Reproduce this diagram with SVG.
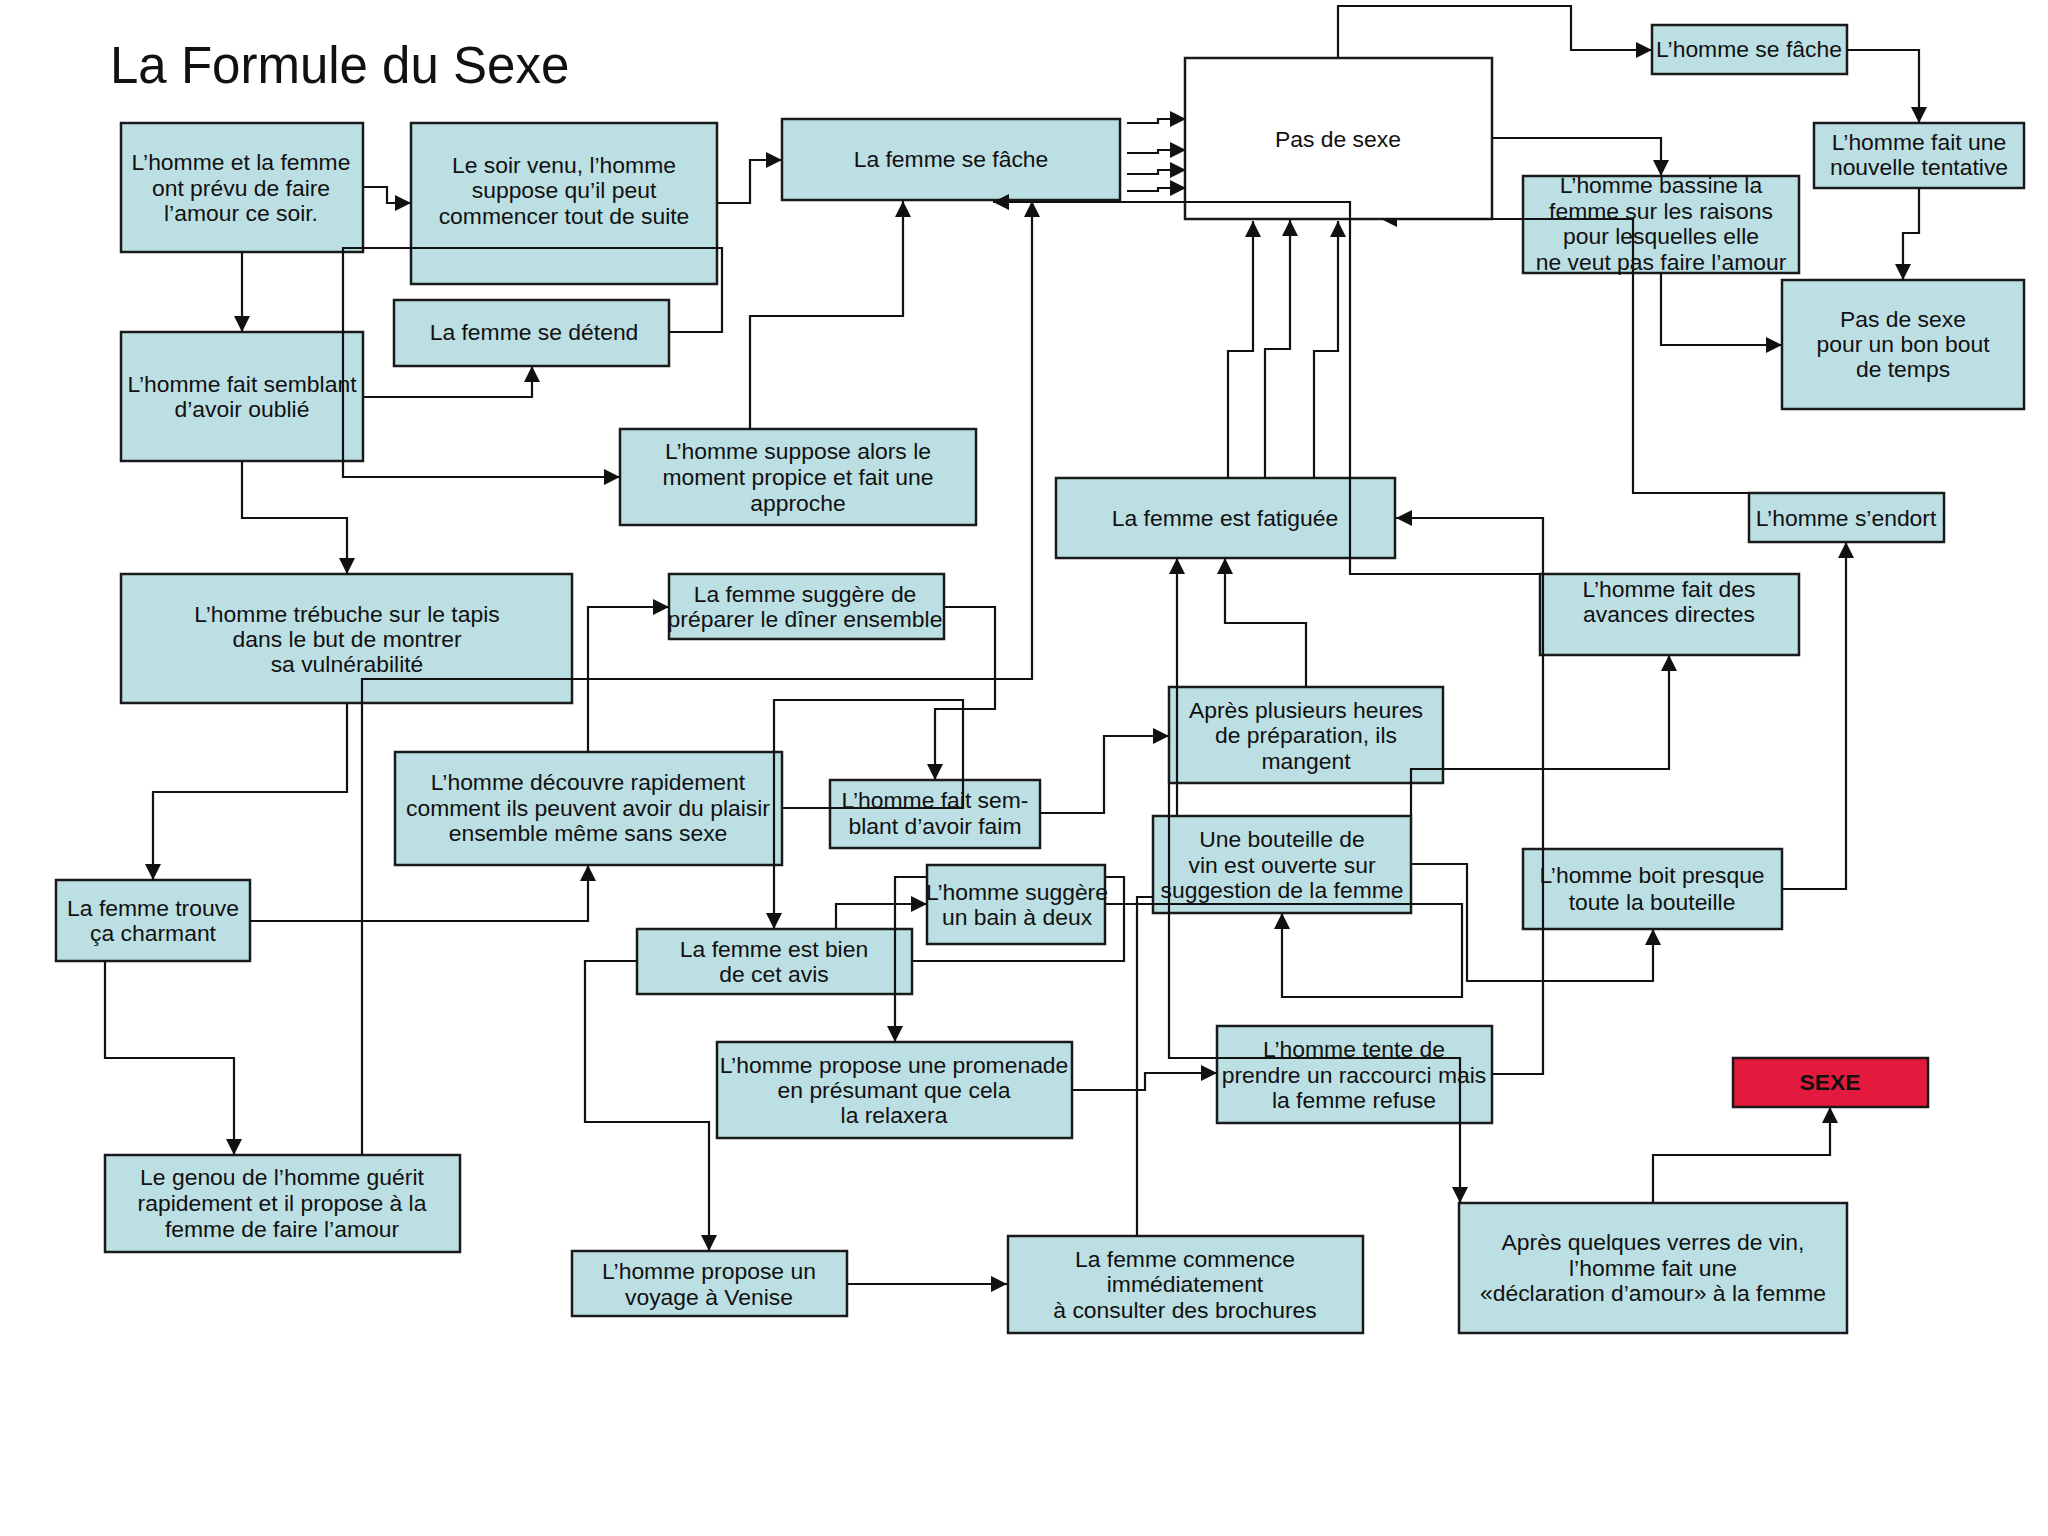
<svg xmlns="http://www.w3.org/2000/svg" width="2048" height="1536" viewBox="0 0 2048 1536">
<defs>
<style>
.b{fill:#bcdfe3;stroke:#1a1a1a;stroke-width:2.5}
.w{fill:#ffffff;stroke:#1a1a1a;stroke-width:2.5}
.r{fill:#e31a3d;stroke:#1a1a1a;stroke-width:2.5}
text{font-family:"Liberation Sans",Arial,sans-serif;font-size:22.9px;fill:#111;text-anchor:middle}
.t{font-size:51px;text-anchor:start}
.bold{font-weight:bold}
.c path{fill:none;stroke:#111;stroke-width:2.2}
.c path.a{marker-end:url(#ah)}
</style>
<marker id="ah" markerUnits="userSpaceOnUse" markerWidth="16" markerHeight="16" refX="16" refY="8" orient="auto" viewBox="0 0 16 16"><path d="M0,0 L16,8 L0,16 z" fill="#111"/></marker>
</defs>
<rect width="2048" height="1536" fill="#ffffff"/>
<text class="t" x="110" y="83">La Formule du Sexe</text>

<g id="n1"><rect class="b" x="121" y="123" width="242" height="129"/><text x="241" y="170">L’homme et la femme</text><text x="241" y="196">ont prévu de faire</text><text x="241" y="221">l’amour ce soir.</text></g>
<g id="n2"><rect class="b" x="411" y="123" width="306" height="161"/><text x="564" y="173">Le soir venu, l’homme</text><text x="564" y="198">suppose qu’il peut</text><text x="564" y="224">commencer tout de suite</text></g>
<g id="n3"><rect class="b" x="782" y="119" width="338" height="81"/><text x="951" y="167">La femme se fâche</text></g>
<g id="n4"><rect class="b" x="394" y="300" width="275" height="66"/><text x="534" y="340">La femme se détend</text></g>
<g id="n5"><rect class="b" x="121" y="332" width="242" height="129"/><text x="242" y="392">L’homme fait semblant</text><text x="242" y="417">d’avoir oublié</text></g>
<g id="n6"><rect class="b" x="620" y="429" width="356" height="96"/><text x="798" y="459">L’homme suppose alors le</text><text x="798" y="485">moment propice et fait une</text><text x="798" y="511">approche</text></g>
<g id="n7"><rect class="b" x="121" y="574" width="451" height="129"/><text x="347" y="622">L’homme trébuche sur le tapis</text><text x="347" y="647">dans le but de montrer</text><text x="347" y="672">sa vulnérabilité</text></g>
<g id="n8"><rect class="b" x="669" y="574" width="275" height="65"/><text x="805" y="602">La femme suggère de</text><text x="805" y="627">préparer le dîner ensemble</text></g>
<g id="n9"><rect class="b" x="395" y="752" width="387" height="113"/><text x="588" y="790">L’homme découvre rapidement</text><text x="588" y="816">comment ils peuvent avoir du plaisir</text><text x="588" y="841">ensemble même sans sexe</text></g>
<g id="n10"><rect class="b" x="830" y="780" width="210" height="68"/><text x="935" y="808">L’homme fait sem-</text><text x="935" y="834">blant d’avoir faim</text></g>
<g id="n11"><rect class="b" x="1056" y="478" width="339" height="80"/><text x="1225" y="526">La femme est fatiguée</text></g>
<g id="n12"><rect class="b" x="1169" y="687" width="274" height="96"/><text x="1306" y="718">Après plusieurs heures</text><text x="1306" y="743">de préparation, ils</text><text x="1306" y="769">mangent</text></g>
<g id="n13"><rect class="b" x="1153" y="816" width="258" height="97"/><text x="1282" y="847">Une bouteille de</text><text x="1282" y="873">vin est ouverte sur</text><text x="1282" y="898">suggestion de la femme</text></g>
<g id="n14"><rect class="b" x="927" y="865" width="178" height="79"/><text x="1017" y="900">L’homme suggère</text><text x="1017" y="925">un bain à deux</text></g>
<g id="n15"><rect class="b" x="637" y="929" width="275" height="65"/><text x="774" y="957">La femme est bien</text><text x="774" y="982">de cet avis</text></g>
<g id="n16"><rect class="b" x="717" y="1042" width="355" height="96"/><text x="894" y="1073">L’homme propose une promenade</text><text x="894" y="1098">en présumant que cela</text><text x="894" y="1123">la relaxera</text></g>
<g id="n17"><rect class="b" x="572" y="1251" width="275" height="65"/><text x="709" y="1279">L’homme propose un</text><text x="709" y="1305">voyage à Venise</text></g>
<g id="n18"><rect class="b" x="1008" y="1236" width="355" height="97"/><text x="1185" y="1267">La femme commence</text><text x="1185" y="1292">immédiatement</text><text x="1185" y="1318">à consulter des brochures</text></g>
<g id="n19"><rect class="b" x="1217" y="1026" width="275" height="97"/><text x="1354" y="1057">L’homme tente de</text><text x="1354" y="1083">prendre un raccourci mais</text><text x="1354" y="1108">la femme refuse</text></g>
<g id="n20"><rect class="b" x="1459" y="1203" width="388" height="130"/><text x="1653" y="1250">Après quelques verres de vin,</text><text x="1653" y="1276">l’homme fait une</text><text x="1653" y="1301">«déclaration d’amour» à la femme</text></g>
<g id="n21"><rect class="r" x="1733" y="1058" width="195" height="49"/><text class="bold" x="1830" y="1090">SEXE</text></g>
<g id="n22"><rect class="b" x="1523" y="849" width="259" height="80"/><text x="1652" y="883">L’homme boit presque</text><text x="1652" y="910">toute la bouteille</text></g>
<g id="n23"><rect class="b" x="1540" y="574" width="259" height="81"/><text x="1669" y="597">L’homme fait des</text><text x="1669" y="622">avances directes</text></g>
<g id="n24"><rect class="b" x="1749" y="493" width="195" height="49"/><text x="1846" y="526">L’homme s’endort</text></g>
<g id="n25"><rect class="b" x="1652" y="25" width="195" height="49"/><text x="1749" y="57">L’homme se fâche</text></g>
<g id="n26"><rect class="b" x="1814" y="123" width="210" height="65"/><text x="1919" y="150">L’homme fait une</text><text x="1919" y="175">nouvelle tentative</text></g>
<g id="n27"><rect class="b" x="1782" y="280" width="242" height="129"/><text x="1903" y="327">Pas de sexe</text><text x="1903" y="352">pour un bon bout</text><text x="1903" y="377">de temps</text></g>
<g id="n28"><rect class="b" x="1523" y="176" width="276" height="97"/><text x="1661" y="193">L’homme bassine la</text><text x="1661" y="219">femme sur les raisons</text><text x="1661" y="244">pour lesquelles elle</text><text x="1661" y="270">ne veut pas faire l’amour</text></g>
<g id="n29"><rect class="w" x="1185" y="58" width="307" height="161"/><text x="1338" y="147">Pas de sexe</text></g>
<g id="n30"><rect class="b" x="56" y="880" width="194" height="81"/><text x="153" y="916">La femme trouve</text><text x="153" y="941">ça charmant</text></g>
<g id="n31"><rect class="b" x="105" y="1155" width="355" height="97"/><text x="282" y="1185">Le genou de l’homme guérit</text><text x="282" y="1211">rapidement et il propose à la</text><text x="282" y="1237">femme de faire l’amour</text></g>

<g id="connectors" class="c">
<path class="a" d="M363,187 H387 V203 H411"/>
<path class="a" d="M242,252 V332"/>
<path class="a" d="M717,203 H750 V160 H782"/>
<path class="a" d="M669,332 H722 V248 H343 V477 H620"/>
<path class="a" d="M363,397 H532 V366"/>
<path class="a" d="M750,429 V316 H903 V201"/>
<path class="a" d="M242,461 V518 H347 V574"/>
<path class="a" d="M347,703 V792 H153 V880"/>
<path class="a" d="M105,961 V1058 H234 V1155"/>
<path class="a" d="M250,921 H588 V865"/>
<path class="a" d="M362,1155 V679 H1032 V201"/>
<path class="a" d="M588,752 V607 H669"/>
<path class="a" d="M944,607 H995 V709 H935 V780"/>
<path class="a" d="M782,808 H963 V700 H774 V929"/>
<path class="a" d="M1040,813 H1104 V736 H1169"/>
<path class="a" d="M1306,687 V623 H1225 V558"/>
<path class="a" d="M1177,816 V558"/>
<path class="a" d="M1228,478 V351 H1253 V221"/>
<path class="a" d="M1265,478 V349 H1290 V220"/>
<path class="a" d="M1314,478 V351 H1338 V221"/>
<path class="a" d="M1540,574 H1350 V202 H993"/>
<path class="a" d="M1411,816 V769 H1669 V655"/>
<path class="a" d="M1411,864 H1467 V981 H1653 V929"/>
<path class="a" d="M1782,889 H1846 V542"/>
<path d="M1749,493 H1633 V219 H1381"/>
<polygon points="1381,219 1397,219 1397,227" fill="#111"/>
<path class="a" d="M1338,58 V6 H1571 V50 H1652"/>
<path class="a" d="M1847,50 H1919 V123"/>
<path class="a" d="M1919,188 V233 H1903 V280"/>
<path class="a" d="M1492,138 H1661 V176"/>
<path class="a" d="M1661,273 V345 H1782"/>
<path class="a" d="M1127,123 H1158 V119 H1186"/>
<path class="a" d="M1127,153 H1158 V150 H1186"/>
<path class="a" d="M1127,174 H1158 V170 H1186"/>
<path class="a" d="M1127,191 H1158 V188 H1186"/>
<path class="a" d="M836,929 V904 H927"/>
<path class="a" d="M927,877 H895 V1042"/>
<path d="M1105,877 H1124 V961 H912"/>
<path class="a" d="M1105,904 H1462 V997 H1282 V913"/>
<path d="M1137,1236 V897 H1153"/>
<path class="a" d="M1169,783 V1058 H1460 V1203"/>
<path class="a" d="M1072,1090 H1145 V1073 H1217"/>
<path class="a" d="M1492,1074 H1543 V518 H1396"/>
<path class="a" d="M637,961 H585 V1122 H709 V1251"/>
<path class="a" d="M847,1284 H1007"/>
<path class="a" d="M1653,1203 V1155 H1830 V1107"/>
</g>
</svg>
